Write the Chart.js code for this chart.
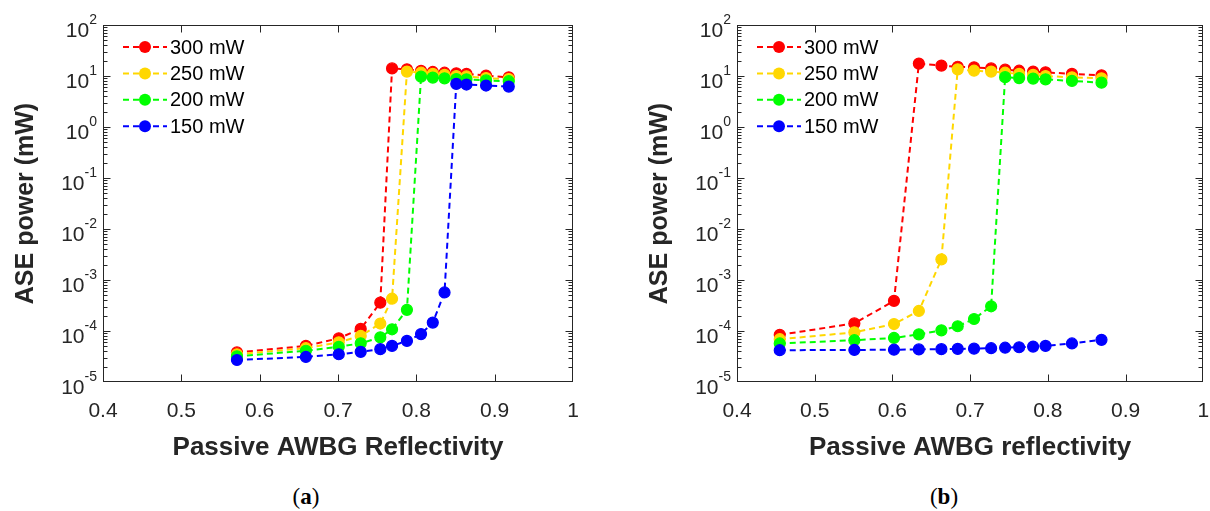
<!DOCTYPE html>
<html>
<head>
<meta charset="utf-8">
<script src="https://cdn.jsdelivr.net/npm/chart.js@4.4.1/dist/chart.umd.min.js"></script>
<style>
  body { margin: 0; background: #fff; }
  #wrap { position: relative; width: 1210px; height: 511px; overflow: hidden; }
  .panel { position: absolute; top: 0; height: 470px; }
  #pa { left: 0; width: 605px; }
  #pb { left: 630px; width: 580px; }
  .cap {
    position: absolute; top: 485px; line-height: 23px; transform: translateX(-50%);
    font-family: "Liberation Serif", "DejaVu Serif", serif; font-size: 23px; color: #000;
  }
</style>
</head>
<body>
<div id="wrap">
  <div class="panel" id="pa"><canvas id="chartA"></canvas></div>
  <div class="panel" id="pb"><canvas id="chartB"></canvas></div>
  <div class="cap" style="left:306px">(<b>a</b>)</div>
  <div class="cap" style="left:944px">(<b>b</b>)</div>
</div>
<script>
const seriesLabels = ['300 mW', '250 mW', '200 mW', '150 mW'];
const seriesColors = ['#ff0000', '#ffd700', '#00ff00', '#0000ff'];

// (a) reflectivity sweep
const reflA = [0.571, 0.659, 0.701, 0.729, 0.754, 0.769, 0.788, 0.806, 0.821, 0.836, 0.851, 0.864, 0.889, 0.918];
const aseA300 = [3.8e-5, 5.1e-5, 7.2e-5, 1.1e-4, 3.6e-4, 14.1, 13.5, 12.6, 12.0, 11.6, 11.3, 11.0, 10.2, 9.4];
const aseA250 = [3.5e-5, 4.6e-5, 6.0e-5, 8.0e-5, 1.4e-4, 4.3e-4, 12.2, 11.6, 11.0, 10.5, 10.0, 9.8, 9.1, 8.7];
const aseA200 = [3.2e-5, 4.1e-5, 4.9e-5, 5.75e-5, 7.5e-5, 1.08e-4, 2.6e-4, 9.7, 9.3, 9.0, 8.7, 8.6, 8.2, 7.9];
const aseA150 = [2.7e-5, 3.1e-5, 3.5e-5, 3.9e-5, 4.4e-5, 5.1e-5, 6.4e-5, 8.7e-5, 1.46e-4, 5.7e-4, 7.0, 6.8, 6.5, 6.2];

// (b) reflectivity sweep
const reflB = [0.455, 0.551, 0.602, 0.634, 0.663, 0.684, 0.705, 0.727, 0.745, 0.763, 0.781, 0.797, 0.831, 0.869];
const aseB300 = [8.4e-5, 1.41e-4, 3.9e-4, 17.5, 16.0, 15.2, 14.8, 14.1, 13.3, 12.7, 12.2, 11.8, 11.0, 10.3];
const aseB250 = [6.9e-5, 9.4e-5, 1.37e-4, 2.47e-4, 2.54e-3, 13.5, 12.7, 12.2, 11.6, 11.0, 10.5, 10.0, 9.4, 9.0];
const aseB200 = [5.7e-5, 6.6e-5, 7.3e-5, 8.6e-5, 1.03e-4, 1.24e-4, 1.72e-4, 3.05e-4, 9.5, 9.1, 8.9, 8.6, 8.0, 7.4];
const aseB150 = [4.2e-5, 4.25e-5, 4.3e-5, 4.35e-5, 4.4e-5, 4.45e-5, 4.5e-5, 4.6e-5, 4.7e-5, 4.8e-5, 4.95e-5, 5.1e-5, 5.7e-5, 6.7e-5];

const xTicks = [0.4, 0.5, 0.6, 0.7, 0.8, 0.9, 1];
const yDecades = [-5, -4, -3, -2, -1, 0, 1, 2];

const FONT = '"Liberation Sans", Arial, sans-serif';
const AXIS = '#262626';

// box, inward ticks, decade labels and the line+marker legend
const axesPlugin = {
  id: 'axesFrame',
  afterDraw(chart) {
    const { ctx, chartArea: a, scales: { x, y } } = chart;
    const L = Math.round(a.left) + 0.5, R = Math.round(a.right) - 0.5;
    const T = Math.round(a.top) + 0.5, B = Math.round(a.bottom) - 0.5;
    ctx.save();
    ctx.strokeStyle = AXIS;
    ctx.lineWidth = 1;
    ctx.strokeRect(L, T, R - L, B - T);
    ctx.beginPath();
    xTicks.slice(1, -1).forEach(v => {
      const px = Math.round(x.getPixelForValue(v)) + 0.5;
      ctx.moveTo(px, B); ctx.lineTo(px, B - 7);
      ctx.moveTo(px, T); ctx.lineTo(px, T + 7);
    });
    yDecades.forEach(k => {
      const py = Math.round(y.getPixelForValue(Math.pow(10, k))) + 0.5;
      if (k > -5 && k < 2) {
        ctx.moveTo(L, py); ctx.lineTo(L + 7, py);
        ctx.moveTo(R, py); ctx.lineTo(R - 7, py);
      }
      if (k < 2) {
        for (let m = 2; m <= 9; m++) {
          const pm = Math.round(y.getPixelForValue(m * Math.pow(10, k))) + 0.5;
          ctx.moveTo(L, pm); ctx.lineTo(L + 4, pm);
          ctx.moveTo(R, pm); ctx.lineTo(R - 4, pm);
        }
      }
    });
    ctx.stroke();

    // y labels as 10^k
    ctx.fillStyle = AXIS;
    ctx.textAlign = 'right';
    ctx.textBaseline = 'alphabetic';
    yDecades.forEach(k => {
      const py = y.getPixelForValue(Math.pow(10, k));
      const xr = a.left - 6;
      const e = String(k);
      ctx.font = '14px ' + FONT;
      ctx.fillText(e, xr, py - 1);
      const w = ctx.measureText(e).width;
      ctx.font = '21px ' + FONT;
      ctx.fillText('10', xr - w, py + 12);
    });

    // legend
    chart.data.datasets.forEach((ds, i) => {
      const ly = a.top + 22 + i * 26.4;
      const lx = a.left;
      ctx.strokeStyle = ds.borderColor;
      ctx.lineWidth = 2;
      ctx.setLineDash([6, 4]);
      ctx.beginPath();
      ctx.moveTo(lx + 20, ly); ctx.lineTo(lx + 64, ly);
      ctx.stroke();
      ctx.setLineDash([]);
      ctx.fillStyle = ds.borderColor;
      ctx.beginPath();
      ctx.arc(lx + 42, ly, 6, 0, Math.PI * 2);
      ctx.fill();
      ctx.fillStyle = '#000';
      ctx.font = '20px ' + FONT;
      ctx.textAlign = 'left';
      ctx.textBaseline = 'middle';
      ctx.fillText(ds.label, lx + 67, ly + 1);
    });
    ctx.restore();
  }
};

function makeChart(id, refl, sets, xTitle, yWidth, yTitlePad, padRight) {
  const datasets = sets.map((vals, i) => ({
    label: seriesLabels[i],
    data: refl.map((r, j) => ({ x: r, y: vals[j] })),
    borderColor: seriesColors[i],
    backgroundColor: seriesColors[i],
    pointBackgroundColor: seriesColors[i],
    pointBorderColor: seriesColors[i],
    borderWidth: 2,
    borderDash: [6, 4],
    pointRadius: 5.5,
    pointBorderWidth: 1.2,
    tension: 0,
    order: sets.length - 1 - i
  }));

  return new Chart(document.getElementById(id), {
    type: 'line',
    data: { datasets },
    options: {
      responsive: true,
      maintainAspectRatio: false,
      devicePixelRatio: 1,
      animation: false,
      layout: { padding: { top: 25, right: padRight, left: 0, bottom: 0 } },
      scales: {
        x: {
          type: 'linear',
          min: 0.4,
          max: 1,
          afterBuildTicks: s => { s.ticks = xTicks.map(v => ({ value: v })); },
          ticks: {
            padding: 9,
            color: AXIS,
            font: { family: FONT, size: 21 },
            callback: v => (v === 1 ? '1' : v.toFixed(1))
          },
          grid: { display: false },
          border: { display: false },
          title: {
            display: true,
            text: xTitle,
            color: AXIS,
            font: { family: FONT, size: 26, weight: 'bold' },
            padding: { top: 0, bottom: 7 }
          },
          afterFit: s => { s.height = 88; s.paddingLeft = 0; s.paddingRight = 0; }
        },
        y: {
          type: 'logarithmic',
          min: 1e-5,
          max: 100,
          ticks: { display: false },
          grid: { display: false },
          border: { display: false },
          title: {
            display: true,
            text: 'ASE power (mW)',
            color: AXIS,
            font: { family: FONT, size: 25, weight: 'bold' },
            padding: { top: yTitlePad, bottom: 0 }
          },
          afterFit: s => { s.width = yWidth; }
        }
      },
      plugins: {
        legend: { display: false },
        tooltip: { enabled: false }
      }
    },
    plugins: [axesPlugin]
  });
}

makeChart('chartA', reflA, [aseA300, aseA250, aseA200, aseA150],
  'Passive AWBG Reflectivity', 103, 11, 32);
makeChart('chartB', reflB, [aseB300, aseB250, aseB200, aseB150],
  'Passive AWBG reflectivity', 107, 15, 4);
</script>
</body>
</html>
